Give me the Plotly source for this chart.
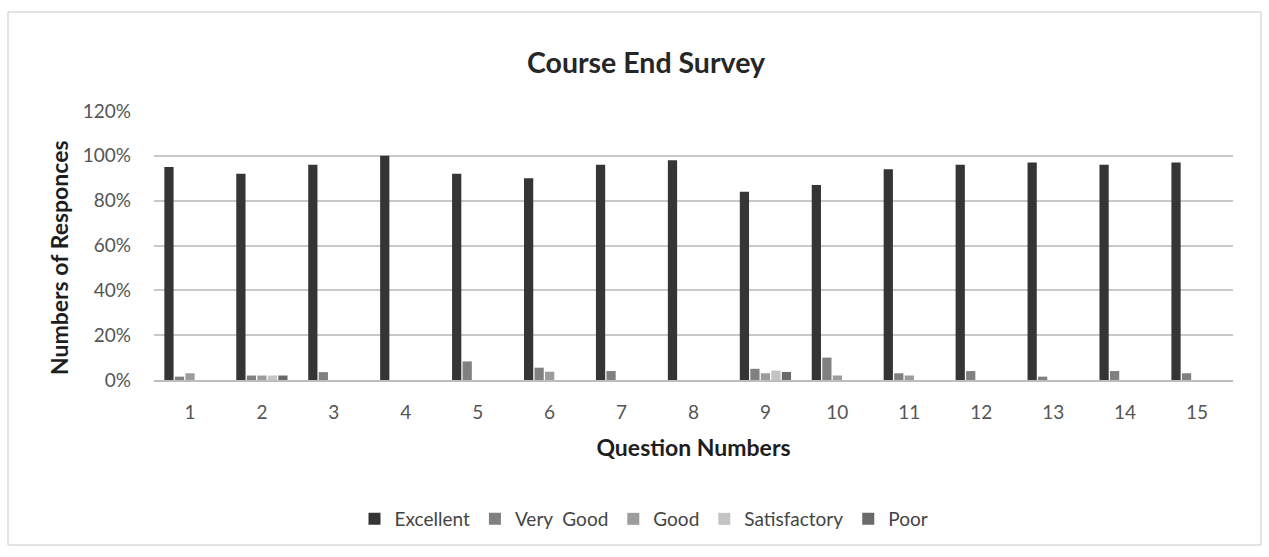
import plotly.graph_objects as go

# Survey results per question (percent of responses)
questions = [str(i) for i in range(1, 16)]
excellent = [95, 92, 96, 100, 92, 90, 96, 98, 84, 87, 94, 96, 97, 96, 97]
very_good = [1.5, 2, 3.5, 0, 8.3, 5.5, 4, 0, 5, 10, 3, 4, 1.5, 4, 3]
good = [3, 2, 0, 0, 0, 3.7, 0, 0, 3, 2, 2, 0, 0, 0, 0]
satisfactory = [0, 2, 0, 0, 0, 0, 0, 0, 4.2, 0, 0, 0, 0, 0, 0]
poor = [0, 2, 0, 0, 0, 0, 0, 0, 3.6, 0, 0, 0, 0, 0, 0]

series_names = ["Excellent", "Very  Good", "Good", "Satisfactory", "Poor"]
series_values = [excellent, very_good, good, satisfactory, poor]
series_colors = ["#353535", "#808080", "#9c9c9c", "#c4c4c4", "#6a6a6a"]

W, H = 1269, 557
L, R, T, B = 154, 36, 111, 177
PW, PH = W - L - R, H - T - B


def px_x(p):
    return (p - L) / PW


def px_y(p):
    return (H - B - p) / PH


FONT = "Lato, 'Open Sans', sans-serif"

fig = go.Figure()
for name, vals, col in zip(series_names, series_values, series_colors):
    fig.add_trace(go.Bar(
        x=questions,
        y=[v / 100 for v in vals],
        name=name,
        marker=dict(color=col, line=dict(width=0)),
    ))

fig.update_layout(
    width=W, height=H,
    margin=dict(l=L, r=R, t=T, b=B),
    paper_bgcolor="white",
    plot_bgcolor="white",
    barmode="group",
    bargap=0.27,
    bargroupgap=0.12,
    font=dict(family=FONT, color="#555555", size=19),
    title=dict(
        text="<b>Course End Survey</b>",
        font=dict(family=FONT, size=28.5, color="#262626"),
        x=px_x(646), xref="paper", xanchor="center",
        y=1 - 63 / H, yref="container", yanchor="middle",
    ),
    legend=dict(
        orientation="h",
        x=px_x(644), xanchor="center",
        y=px_y(519), yanchor="middle",
        font=dict(size=19, color="#444444"),
        itemwidth=30,
        traceorder="normal",
    ),
    xaxis=dict(
        showgrid=False,
        showline=True, linecolor="#bdbdbd", linewidth=1.5,
        ticks="", ticklabelstandoff=14,
        tickfont=dict(size=19, color="#555555"),
        title=dict(text="<b>Question Numbers</b>",
                   font=dict(size=23, color="#1e1e1e"), standoff=18),
    ),
    yaxis=dict(
        range=[0, 1.2], dtick=0.2, tickformat=".0%",
        showgrid=True, gridcolor="#c8c8c8", gridwidth=1.5,
        zeroline=False, showline=False,
        ticks="", ticklabelstandoff=22,
        tickfont=dict(size=19, color="#555555"),
    ),
    annotations=[dict(
        text="<b>Numbers of Responces</b>",
        textangle=-90, showarrow=False,
        xref="paper", yref="paper",
        x=px_x(59), y=px_y(258), xanchor="center", yanchor="middle",
        font=dict(size=23, color="#1e1e1e"),
    )],
    shapes=[dict(
        type="rect", xref="paper", yref="paper",
        x0=px_x(8), x1=px_x(1261), y0=px_y(545), y1=px_y(12),
        line=dict(color="#c8c8c8", width=1), fillcolor="rgba(0,0,0,0)",
        layer="below",
    )],
)

fig.write_html("out.html")
